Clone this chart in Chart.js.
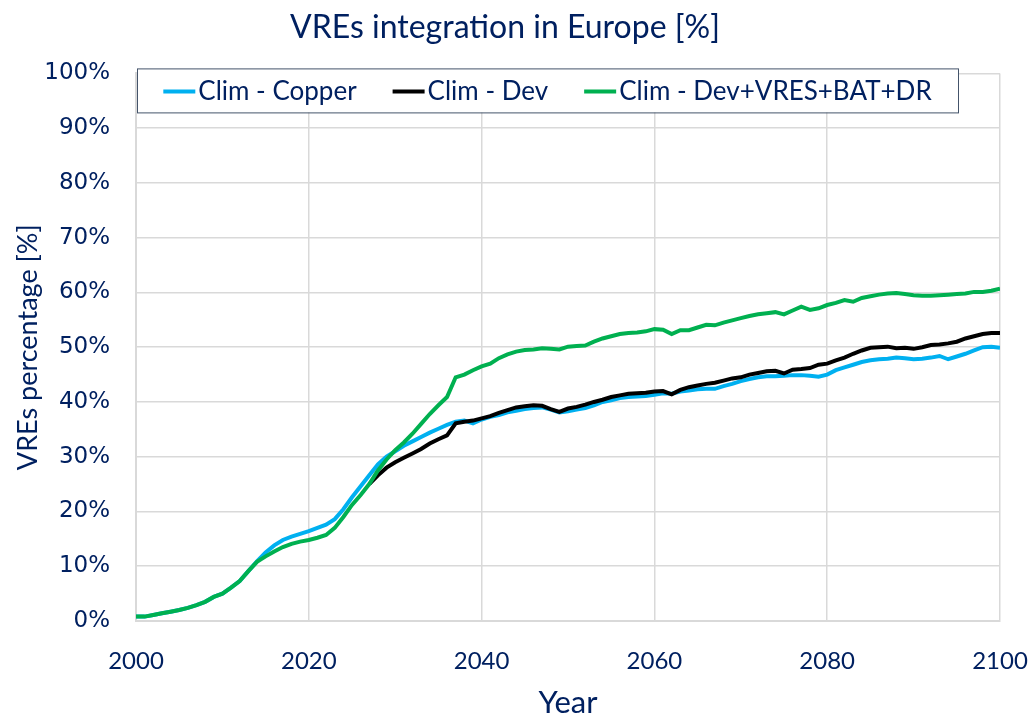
<!DOCTYPE html>
<html>
<head>
<meta charset="utf-8">
<title>VREs integration in Europe</title>
<script src="https://cdn.jsdelivr.net/npm/chart.js@4.4.1/dist/chart.umd.min.js"></script>
<style>
    html, body { margin: 0; padding: 0; background: #ffffff; }
    #g_vres { display: block; }
</style>
</head>
<body>
<canvas id="g_vres" width="1030" height="715"></canvas>
<script>
// years 2000 .. 2100, one value per year
var first_year = 2000;
var last_year = 2100;

var series_names = ['Clim - Copper', 'Clim - Dev', 'Clim - Dev+VRES+BAT+DR'];

var clim_copper = [
    0.8, 0.8, 1.1, 1.4, 1.7, 2.0, 2.4, 2.9, 3.5, 4.4,
    5.0, 6.1, 7.3, 9.1, 10.9, 12.5, 13.8, 14.8, 15.4, 15.9,
    16.4, 17.0, 17.6, 18.6, 20.4, 22.6, 24.6, 26.6, 28.6, 30.0,
    31.0, 32.0, 32.8, 33.6, 34.4, 35.1, 35.8, 36.4, 36.6, 36.1,
    36.8, 37.3, 37.6, 38.1, 38.4, 38.7, 38.9, 39.0, 38.6, 38.1,
    38.3, 38.6, 38.9, 39.4, 40.0, 40.3, 40.7, 40.9, 41.0, 41.1,
    41.3, 41.6, 41.5, 41.9, 42.1, 42.3, 42.4, 42.4, 42.9, 43.3,
    43.8, 44.2, 44.5, 44.7, 44.7, 44.8, 44.9, 44.9, 44.8, 44.6,
    45.0, 45.8, 46.3, 46.8, 47.3, 47.6, 47.8, 47.9, 48.1, 48.0,
    47.8, 47.9, 48.1, 48.4, 47.8, 48.3, 48.8, 49.4, 50.0, 50.1,
    49.9
];

var clim_dev = [
    null, null, null, null, null, null, null, null, null, null,
    null, null, null, null, null, null, null, null, null, null,
    null, null, null, null, null, null, null, 25.0, 26.6, 28.0,
    29.0, 29.8, 30.6, 31.4, 32.4, 33.2, 33.9, 36.1, 36.4, 36.6,
    37.0, 37.4, 38.0, 38.5, 39.0, 39.2, 39.4, 39.3, 38.7, 38.2,
    38.8, 39.1, 39.5, 40.0, 40.4, 40.9, 41.2, 41.5, 41.6, 41.7,
    41.9, 42.0, 41.4, 42.2, 42.7, 43.0, 43.3, 43.5, 43.9, 44.3,
    44.5, 45.0, 45.3, 45.6, 45.7, 45.2, 45.9, 46.0, 46.2, 46.8,
    47.0, 47.6, 48.1, 48.8, 49.4, 49.9, 50.0, 50.1, 49.8, 49.9,
    49.7, 50.0, 50.4, 50.5, 50.7, 51.0, 51.6, 52.0, 52.4, 52.6,
    52.6
];

var clim_dev_vres = [
    0.8, 0.8, 1.1, 1.4, 1.7, 2.0, 2.4, 2.9, 3.5, 4.4,
    5.0, 6.1, 7.3, 9.1, 10.8, 11.8, 12.7, 13.5, 14.1, 14.5,
    14.8, 15.2, 15.7, 17.0, 19.0, 21.2, 23.0, 25.0, 27.5, 29.5,
    31.2, 32.6, 34.2, 36.0, 37.8, 39.4, 40.9, 44.5, 45.0, 45.8,
    46.5, 47.0, 48.0, 48.7, 49.2, 49.5, 49.6, 49.8, 49.7, 49.6,
    50.1, 50.2, 50.3, 51.0, 51.6, 52.0, 52.4, 52.6, 52.7, 52.9,
    53.3, 53.2, 52.4, 53.1, 53.1, 53.6, 54.1, 54.0, 54.5, 54.9,
    55.3, 55.7, 56.0, 56.2, 56.4, 56.0, 56.7, 57.4, 56.8, 57.1,
    57.7, 58.1, 58.6, 58.3, 59.0, 59.3, 59.6, 59.8, 59.9, 59.7,
    59.5, 59.4, 59.4, 59.5, 59.6, 59.7, 59.8, 60.1, 60.1, 60.3,
    60.7
];

var x_ticks = [2000, 2020, 2040, 2060, 2080, 2100];
var y_ticks = [0, 10, 20, 30, 40, 50, 60, 70, 80, 90, 100];

var colores = ['#00b0f0', '#000000', '#00b050'];
var texto = '#002060';
var rejilla = '#d9d9d9';

function puntos(valores) {
    var datos = [];
    for (let i = 0; i < valores.length; i++) {
        datos.push({ x: first_year + i, y: valores[i] });
    }
    return datos;
}

// legend drawn inside the plot, in a white box with a thin border
var leyenda_caja = {
    id: 'leyenda_caja',
    afterDraw: function (chart) {
        var ctx = chart.ctx;
        var area = chart.chartArea;
        var left = area.left + 1;
        var top = area.top - 5;
        var width = area.right - 42 - left;
        var height = 44;
        var linea = 32;
        var hueco = 36;

        ctx.save();
        ctx.fillStyle = '#ffffff';
        ctx.fillRect(left, top, width, height);
        ctx.strokeStyle = '#44546a';
        ctx.lineWidth = 1;
        ctx.strokeRect(left + 0.5, top + 0.5, width, height);

        ctx.font = '26px Lato';
        var anchos = [];
        var total = 0;
        for (let i = 0; i < chart.data.datasets.length; i++) {
            var w = linea + 3 + ctx.measureText(chart.data.datasets[i].label).width;
            anchos.push(w);
            total = total + w;
        }
        total = total + hueco * (anchos.length - 1);

        var x = left + (width - total) / 2;
        var y = top + height / 2;
        ctx.textBaseline = 'middle';
        ctx.textAlign = 'left';
        for (let i = 0; i < chart.data.datasets.length; i++) {
            var ds = chart.data.datasets[i];
            ctx.strokeStyle = ds.borderColor;
            ctx.lineWidth = 4;
            ctx.beginPath();
            ctx.moveTo(x, y + 1);
            ctx.lineTo(x + linea, y + 1);
            ctx.stroke();
            ctx.fillStyle = texto;
            ctx.fillText(ds.label, x + linea + 3, y + 1);
            x = x + anchos[i] + hueco;
        }
        ctx.restore();
    }
};

new Chart(document.getElementById('g_vres'), {
    type: 'line',
    data: {
        datasets: [{
            label: series_names[0],
            data: puntos(clim_copper),
            borderColor: colores[0],
            borderWidth: 4,
            pointRadius: 0,
            order: 2
        }, {
            label: series_names[1],
            data: puntos(clim_dev),
            borderColor: colores[1],
            borderWidth: 4,
            pointRadius: 0,
            order: 1
        }, {
            label: series_names[2],
            data: puntos(clim_dev_vres),
            borderColor: colores[2],
            borderWidth: 4,
            pointRadius: 0,
            order: 0
        }]
    },
    options: {
        responsive: false,
        animation: false,
        layout: { padding: { left: 10, right: 30, top: 0, bottom: 0 } },
        plugins: {
            legend: { display: false },
            tooltip: { enabled: false },
            title: {
                display: true,
                text: 'VREs integration in Europe [%]',
                color: texto,
                font: { family: 'Lato', size: 32, weight: 'normal' },
                padding: { top: 8, bottom: 27 }
            }
        },
        scales: {
            x: {
                type: 'linear',
                min: first_year,
                max: last_year,
                afterBuildTicks: function (axis) {
                    axis.ticks = x_ticks.map(function (v) { return { value: v }; });
                },
                afterFit: function (axis) {
                    axis.height = 94;
                    axis.paddingLeft = 0;
                    axis.paddingRight = 0;
                },
                ticks: {
                    color: texto,
                    font: { family: 'Lato', size: 24 },
                    padding: 26,
                    maxRotation: 0,
                    callback: function (v) { return String(v); }
                },
                grid: { color: rejilla, lineWidth: 1.5, drawTicks: false },
                border: { color: rejilla, width: 2 },
                title: {
                    display: true,
                    text: 'Year',
                    color: texto,
                    font: { family: 'Lato', size: 31, lineHeight: 0.8 },
                    padding: 0
                }
            },
            y: {
                min: 0,
                max: 100,
                afterBuildTicks: function (axis) {
                    axis.ticks = y_ticks.map(function (v) { return { value: v }; });
                },
                afterFit: function (axis) {
                    axis.width = 126;
                },
                ticks: {
                    color: texto,
                    font: { family: 'DejaVu Sans', size: 23 },
                    padding: 26,
                    callback: function (v) { return v + '%'; }
                },
                grid: { color: rejilla, lineWidth: 1.5, drawTicks: false },
                border: { color: rejilla, width: 2 },
                title: {
                    display: true,
                    text: 'VREs percentage [%]',
                    color: texto,
                    font: { family: 'Lato', size: 27 },
                    padding: 2
                }
            }
        }
    },
    plugins: [leyenda_caja]
});
</script>
</body>
</html>
